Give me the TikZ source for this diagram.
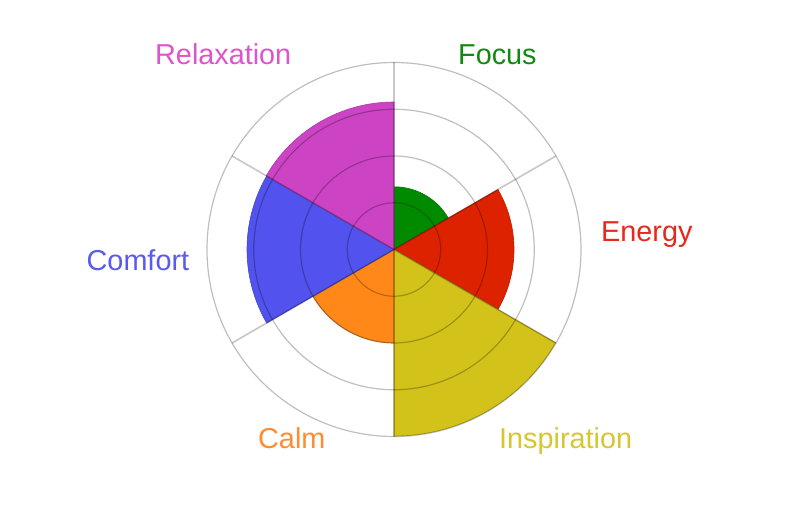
\documentclass[tikz,border=0pt]{standalone}
\usepackage{fontspec}
\setmainfont{Liberation Sans}
\definecolor{cFocus}{HTML}{008A00}
\definecolor{cEnergy}{HTML}{DD2200}
\definecolor{cInsp}{HTML}{D2C21A}
\definecolor{cCalm}{HTML}{FF8818}
\definecolor{cComf}{HTML}{5252EE}
\definecolor{cRelax}{HTML}{CC44C4}
\definecolor{lFocus}{HTML}{118A11}
\definecolor{lEnergy}{HTML}{E8281C}
\definecolor{lInsp}{HTML}{D6C630}
\definecolor{lCalm}{HTML}{FF8C30}
\definecolor{lComf}{HTML}{5A5AEE}
\definecolor{lRelax}{HTML}{DD55CC}
\tikzset{
  lbl/.style={anchor=base west, inner sep=0pt, font=\fontsize{28.8}{34}\selectfont},
  sector/.style={fill=#1, draw=#1!85!black, line width=0.6pt},
  grid/.style={draw=black, draw opacity=0.25, line width=1.2pt},
  spoke/.style={draw=black, draw opacity=0.22, line width=1.6pt}
}
\begin{document}
\begin{tikzpicture}
\useasboundingbox (0,0) rectangle (804pt,-508pt);
\fill[white] (0,0) rectangle (804pt,-508pt);
\begin{scope}[shift={(394pt,-249.5pt)}]
  % sectors
  \path[sector=cFocus] (0,0) -- (90:62.7pt) arc[start angle=90, end angle=30, radius=62.7pt] -- cycle;
  \path[sector=cEnergy] (0,0) -- (30:120pt) arc[start angle=30, end angle=-30, radius=120pt] -- cycle;
  \path[sector=cInsp] (0,0) -- (-30:186.5pt) arc[start angle=-30, end angle=-90, radius=186.5pt] -- cycle;
  \path[sector=cCalm] (0,0) -- (-90:93.5pt) arc[start angle=-90, end angle=-150, radius=93.5pt] -- cycle;
  \path[sector=cComf] (0,0) -- (-150:147pt) arc[start angle=-150, end angle=-210, radius=147pt] -- cycle;
  \path[sector=cRelax] (0,0) -- (150:147.5pt) arc[start angle=150, end angle=90, radius=147.5pt] -- cycle;
  % grid
  \foreach \r in {46.75,93.5,140.25,187}
    \path[grid] (0,0) circle[radius=\r pt];
  \foreach \a in {90,30,-30,-90,-150,150}
    \path[spoke] (0,0) -- (\a:187pt);
\end{scope}
\node[lbl, text=lRelax] (relax) at (155pt,-65pt) {Relaxation};
\node[lbl, text=lFocus] (focus) at (458pt,-65pt) {Focus};
\node[lbl, text=lEnergy] (energy) at (601pt,-242pt) {Energy};
\node[lbl, text=lComf] (comfort) at (86.5pt,-270pt) {Comfort};
\node[lbl, text=lCalm] (calm) at (258pt,-448pt) {Calm};
\node[lbl, text=lInsp] (insp) at (499pt,-448pt) {Inspiration};
\end{tikzpicture}
\end{document}
